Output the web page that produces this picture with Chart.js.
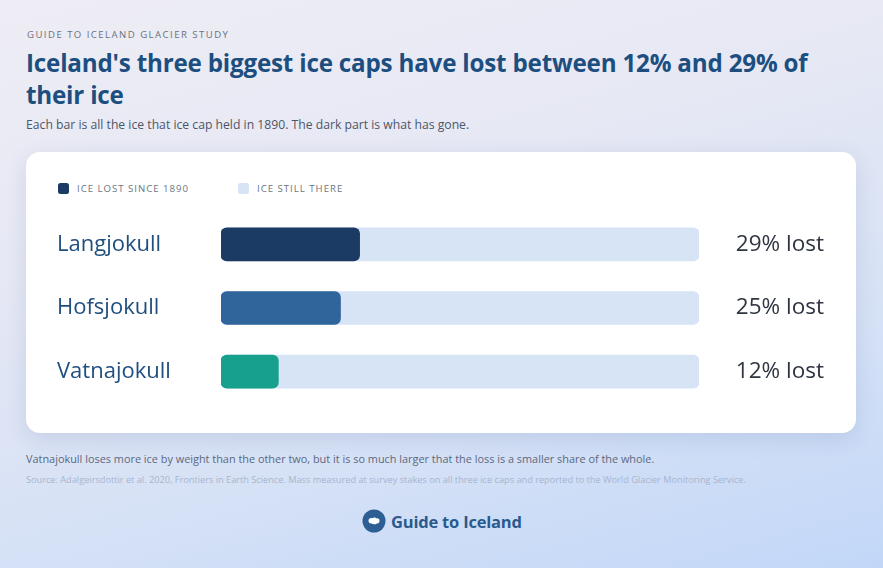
<!DOCTYPE html>
<html>
<head>
<meta charset="utf-8">
<script src="https://cdn.jsdelivr.net/npm/chart.js@4.4.1/dist/chart.umd.min.js"></script>
<style>
  html, body { margin:0; padding:0; }
  body {
    width:883px; height:568px; overflow:hidden; position:relative;
    font-family: "Open Sans", sans-serif;
    background: linear-gradient(165deg, #eeedf5 0%, #e6e8f4 35%, #d5e1f6 70%, #c2d7f8 100%);
  }
  .kicker { position:absolute; left:27px; top:28px; font-size:9.6px; letter-spacing:1.45px; color:#6b7280; font-weight:500; }
  .title { position:absolute; left:26px; top:47px; width:820px; font-size:24.2px; line-height:32px; font-weight:700; color:#1d4e80; letter-spacing:-0.2px; }
  .subtitle { position:absolute; left:26px; top:116px; font-size:12.2px; color:#4d5668; }
  .card { position:absolute; left:26px; top:152px; width:830px; height:281px; background:#fff; border-radius:14px;
          box-shadow: 0 6px 22px rgba(40,70,130,0.13); }
  .legend { position:absolute; left:58px; top:182px; display:flex; font-size:9.6px; letter-spacing:1.0px; color:#6b7585; }
  .legend .item { display:flex; align-items:center; }
  .legend .sw { width:11px; height:11px; border-radius:2.5px; margin-right:8px; }
  #chartWrap { position:absolute; left:26px; top:199px; width:830px; height:218px; }
  .note { position:absolute; left:26px; top:451px; font-size:10.9px; color:#5b6880; }
  .source { position:absolute; left:26px; top:473px; font-size:9.2px; color:#a6b5cd; }
  .logo { position:absolute; left:362px; top:509px; display:flex; align-items:center; }
  .logo span { font-size:16.5px; font-weight:700; color:#2a5a8e; margin-left:5px; letter-spacing:-0.2px; }
</style>
</head>
<body>
<div class="kicker">GUIDE TO ICELAND GLACIER STUDY</div>
<div class="title">Iceland's three biggest ice caps have lost between 12% and 29% of their ice</div>
<div class="subtitle">Each bar is all the ice that ice cap held in 1890. The dark part is what has gone.</div>
<div class="card"></div>
<div class="legend" id="legend"></div>
<div id="chartWrap"><canvas id="c" width="830" height="218" style="width:830px;height:218px"></canvas></div>
<div class="note">Vatnajokull loses more ice by weight than the other two, but it is so much larger that the loss is a smaller share of the whole.</div>
<div class="source">Source: Adalgeirsdottir et al. 2020, Frontiers in Earth Science. Mass measured at survey stakes on all three ice caps and reported to the World Glacier Monitoring Service.</div>
<div class="logo">
  <svg width="24" height="24" viewBox="0 0 24 24">
    <circle cx="12" cy="12" r="11.5" fill="#2d5f95"/>
    <path d="M6.5 11.2 C7 9.2 8.8 8.6 10.2 9.3 C11.4 8.3 13.6 8.4 14.8 9.4 C16.3 9.1 17.8 10.2 17.4 11.8 C17.9 13.2 16.6 14.6 14.9 14.4 C13.5 15.6 10.9 15.5 9.7 14.5 C8 14.8 6.2 13.4 6.5 11.2 Z" fill="#ffffff"/>
  </svg>
  <span>Guide to Iceland</span>
</div>
<script>
const iceCaps = ['Langjokull', 'Hofsjokull', 'Vatnajokull'];
const lostPercent = [29, 25, 12];
const iceIn1890 = [100, 100, 100];
const valueLabels = ['29% lost', '25% lost', '12% lost'];
const seriesNames = ['Ice lost since 1890', 'Ice still there'];
const lostColors = ['#1b3a64', '#30659b', '#17a08b'];
const trackColor = '#d6e4f5';
const FONT = '"Open Sans", sans-serif';

const legendEl = document.getElementById('legend');
[[seriesNames[0], '#1b3a64'], [seriesNames[1], trackColor]].forEach((it, i) => {
  const d = document.createElement('div');
  d.className = 'item';
  d.style.marginRight = i === 0 ? '49px' : '0';
  d.innerHTML = '<div class="sw" style="background:' + it[1] + '"></div>' + it[0].toUpperCase();
  legendEl.appendChild(d);
});

new Chart(document.getElementById('c'), {
  type: 'bar',
  data: {
    labels: iceCaps,
    datasets: [
      { label: seriesNames[0], data: lostPercent, backgroundColor: lostColors, borderRadius: 6, borderSkipped: false,
        barThickness: 33, grouped: false },
      { label: seriesNames[1], data: iceIn1890, backgroundColor: trackColor, borderRadius: 6, borderSkipped: false,
        barThickness: 33, grouped: false }
    ]
  },
  options: {
    indexAxis: 'y',
    responsive: false,
    animation: false,
    layout: { padding: { left: 31, right: 32, top: 0, bottom: 0 } },
    plugins: { legend: { display: false }, tooltip: { enabled: false } },
    scales: {
      x: { min: 0, max: 100, display: false },
      y: {
        position: 'left',
        grid: { display: false }, border: { display: false },
        ticks: { crossAlign: 'far', padding: 0, color: '#1f4e7f', font: { family: FONT, size: 22, weight: '500' } },
        afterFit: s => { s.width = 164; }
      },
      y2: {
        type: 'category', labels: valueLabels, position: 'right', offset: true,
        grid: { display: false }, border: { display: false },
        ticks: { crossAlign: 'far', padding: 0, color: '#2f3541', font: { family: FONT, size: 22.5, weight: '400' } },
        afterFit: s => { s.width = 125; }
      }
    }
  }
});
</script>
</body>
</html>
